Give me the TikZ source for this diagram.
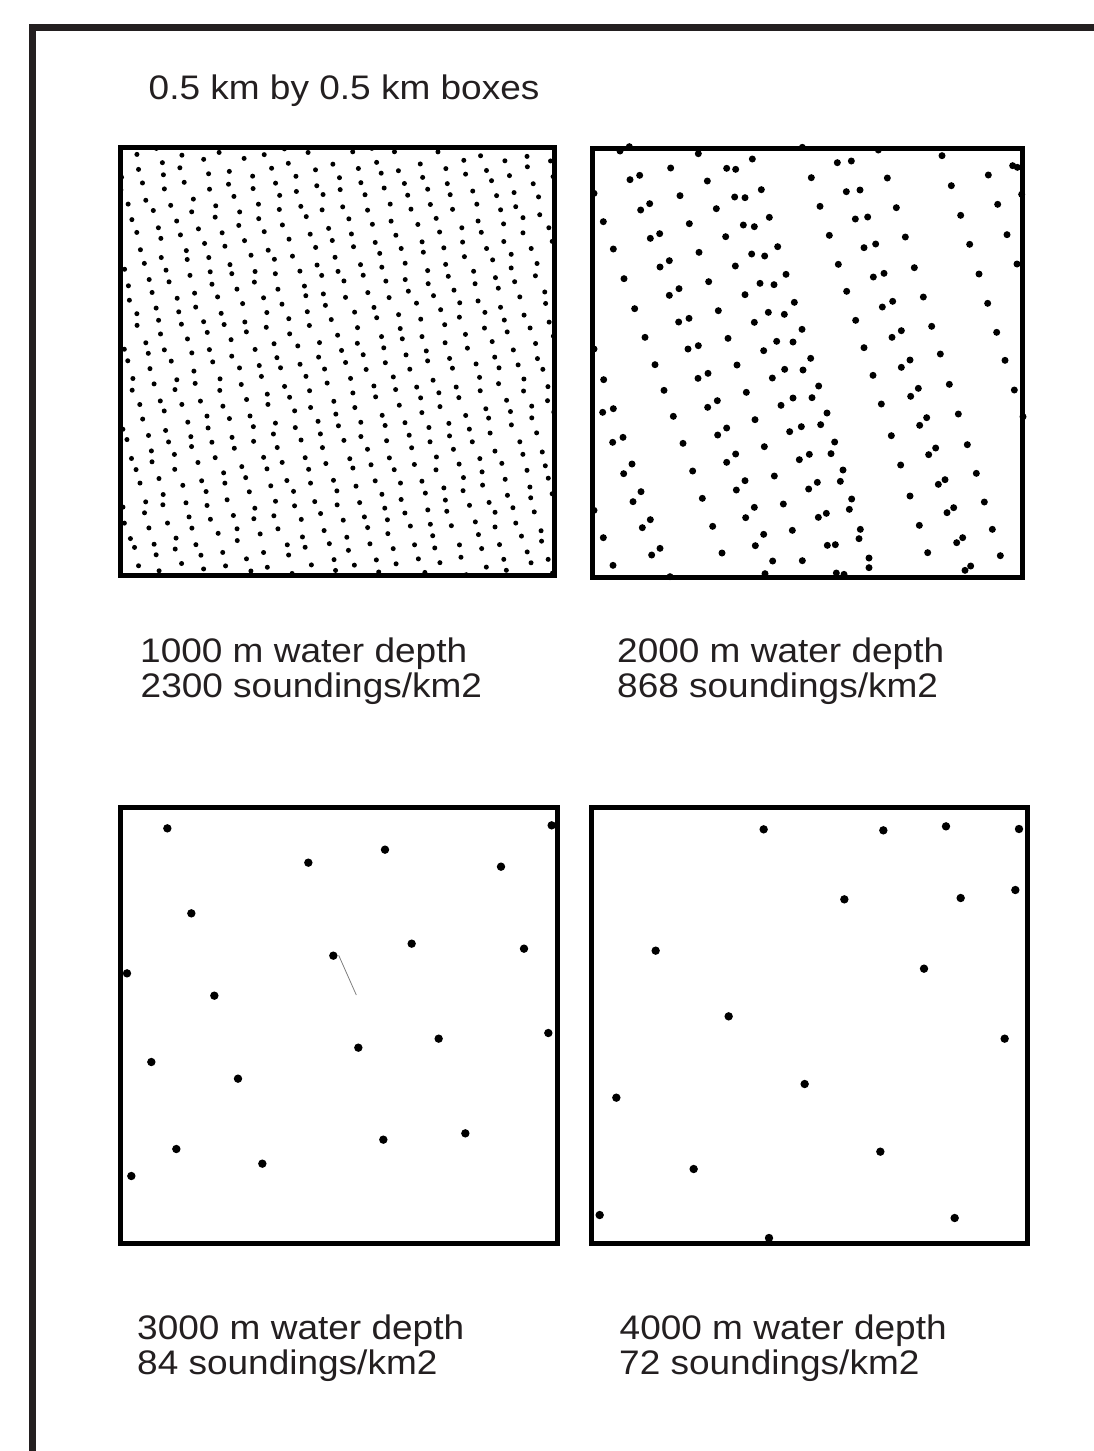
\documentclass[tikz,border=0pt]{standalone}
\usepackage{fontspec}
\setmainfont{Liberation Sans}
\definecolor{ink}{RGB}{35,31,32}
\newcommand{\sqz}[1]{\scalebox{1}[0.92]{#1}}
\begin{document}
\begin{tikzpicture}[x=1pt,y=-1pt,
  lab/.style={anchor=base west,inner sep=0pt,text=ink,font=\fontsize{37}{44}\selectfont},
  boxline/.style={draw=black,line width=5pt},
  frameline/.style={draw=ink,line width=7pt}]
\clip (0,0) rectangle (1094,1451);
\fill[white] (0,0) rectangle (1094,1451);
% outer frame (partly outside the picture)
\draw[frameline] (1110,27) -- (32.7,27) -- (32.7,1470);
% title
\node[lab] (title) at (148.5,99) {\sqz{0.5 km by 0.5 km boxes}};
% ---------- box 1: dense lattice ----------
\pgfmathsetseed{7}
\begin{scope}
\clip (120,147) rectangle (554,575);
\foreach \c in {-8,...,22}{
  \foreach \r in {0,...,30}{
    \pgfmathsetmacro{\yy}{147 + \r*14.4 + mod(\c+10,2)*7.2 + 3*rand}
    \pgfmathsetmacro{\xx}{112 + \c*21.7 + (\yy-147)*0.27 + 3*rand}
    \fill[black] (\xx,\yy) circle (2.5pt);
  }
}
\end{scope}
\draw[boxline] (120,147) rectangle (554,575);
% ---------- box 2 ----------
\foreach \a/\b in {105/33,133/20,340/41,502/57,652/22,880/30,1071/47,
257/84,425/85,452/88,757/68,799/63,1283/77,1297/82,
135/119,164/106,367/123,679/113,907/114,1210/105,1099/137,
27/160,529/149,285/167,449/171,480/173,784/155,825/150,1310/163,
167/210,194/191,394/206,705/199,934/203,1238/193,
55/245,313/251,553/232,475/255,508/260,811/237,848/231,1127/226,
196/295,224/281,422/290,733/286,961/291,1266/284,
85/327,342/337,578/320,837/323,872/312,1154/313,
225/381,253/362,500/342,539/348,451/378,760/373,988/383,1296/372,
117/416,371/425,603/403,525/430,567/434,865/411,897/400,1182/402,
253/466,282/446,480/464,785/454,1015/471,
149/506,400/512,628/487,550/517,598/523,892/501,923/484,1208/490,
281/546,312/535,508/547,812/541,1040/559,
180/592,429/595,651/568,575/604,624/606,921/592,949/572,1235/577,
27/627,309/627,340/617,536/632,837/623,1066/642,
210/674,456/675,677/655,599/688,654/690,949/682,975/660,1260/661,
56/719,339/715,369/700,562/714,864/706,1093/733,
237/751,484/757,701/738,624/774,681/773,977/769,1000/745,1288/750,
53/817,85/806,588/796,368/802,397/782,889/792,1120/822,
265/829,510/839,726/819,707/854,1004/856,1025/833,1314/830,
83/907,114/892,398/885,425/864,614/875,649/860,919/887,1147/914,
294/910,538/920,749/906,738/941,1031/944,1052/924,
116/1001,141/972,452/942,425/967,643/959,673/943,947/975,1174/1000,
323/993,568/1008,774/990,766/1024,1060/1033,1080/1019,
144/1085,168/1055,454/1050,480/1022,671/1047,697/1027,975/1068,1198/1086,
27/1111,352/1075,595/1092,800/1077,793/1108,1086/1118,1106/1103,
172/1163,196/1139,383/1159,482/1133,508/1102,700/1132,724/1120,1003/1156,1222/1168,
55/1193,622/1171,826/1168,822/1196,1115/1208,1133/1193,
200/1245,225/1225,411/1239,511/1217,536/1183,727/1216,751/1214,1028/1238,1246/1247,
84/1276,563/1263,652/1262,852/1254,852/1283,1140/1291,1157/1278,
255/1310,540/1301,754/1299,777/1303}
  \fill[black] ({585+\a/3},{140+\b/3}) circle (3.5pt);
\draw[boxline] (592.5,148) rectangle (1022,577);
% ---------- box 3 ----------
\foreach \a/\b in {172/85,595/188,825/149,1173/200,1325/76,244/340,670/467,905/431,
1242/446,51/520,313/587,745/743,986/716,1315/699,124/786,384/836,820/1019,
1066/1000,199/1047,457/1091,64/1128}
  \fill[black] ({110+\a/3},{800+\b/3}) circle (4.2pt);
\coordinate (s1) at (338.7,955.3);
\coordinate (s2) at (356.3,995);
\draw[gray,line width=0.8pt] (s1) -- (s2);
\draw[boxline] (120,807) rectangle (557,1243.5);
% ---------- box 4 ----------
\foreach \a/\b in {551/88,910/91,1098/79,1317/87,793/298,1142/294,1306/270,227/452,
1032/506,446/649,1274/716,674/852,109/893,901/1055,341/1107,59/1245,1124/1254,567/1314}
  \fill[black] ({580+\a/3},{800+\b/3}) circle (4.2pt);
\draw[boxline] (591.5,807) rectangle (1027.5,1243);
% ---------- labels ----------
\node[lab] (l1a) at (140,662.3) {\sqz{1000 m water depth}};
\node[lab] (l1b) at (140.5,697.7) {\sqz{2300 soundings/km2}};
\node[lab] (l2a) at (617,662.3) {\sqz{2000 m water depth}};
\node[lab] (l2b) at (617,697.7) {\sqz{868 soundings/km2}};
\node[lab] (l3a) at (137,1339) {\sqz{3000 m water depth}};
\node[lab] (l3b) at (137,1374) {\sqz{84 soundings/km2}};
\node[lab] (l4a) at (619.5,1339) {\sqz{4000 m water depth}};
\node[lab] (l4b) at (619,1374) {\sqz{72 soundings/km2}};
\end{tikzpicture}
\end{document}
